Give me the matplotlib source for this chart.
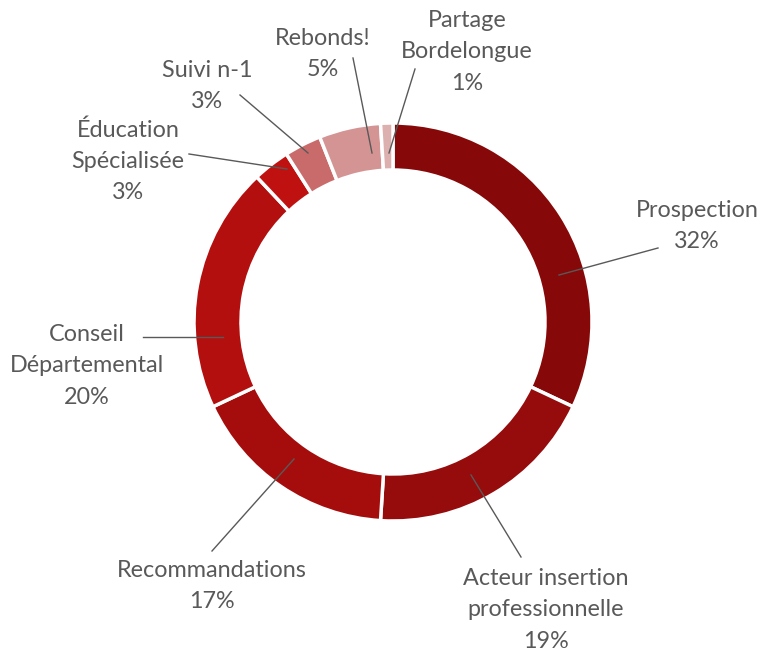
import numpy as np
import matplotlib.pyplot as plt

## Data ##
labels = ["Prospection", "Acteur insertion\nprofessionnelle", "Recommandations",
          "Conseil\nDépartemental", "Éducation\nSpécialisée", "Suivi n-1",
          "Rebonds!", "Partage\nBordelongue"]
values = [32, 19, 17, 20, 3, 3, 5, 1]
colors = ["#870808", "#960b0b", "#a50d0d", "#b30f0f", "#c01111",
          "#ca6b6b", "#d49494", "#ddb0b0"]

# label centre and leader line (label end, ring end), in image pixels
label_pos = [(697, 226), (546, 610), (212, 586), (87, 366), (128, 161),
             (207, 86), (323, 54), (467, 52)]
leaders = [((658, 248), (559, 275)), ((521, 557), (471, 475)),
           ((212, 551), (294, 459)), ((143, 337), (223, 337)),
           ((189, 154), (287, 169)), ((240, 95), (308, 153)),
           ((353, 58), (372, 153)), ((415, 69), (389, 153))]

W, H = 760, 652
CX, CY, R = 393, 322, 199


def px(x, y):
    return (x - CX) / R, (CY - y) / R


fig = plt.figure(figsize=(W / 100, H / 100), dpi=100)
ax = fig.add_axes([0, 0, 1, 1])
ax.pie(values, colors=colors, startangle=90, counterclock=False, radius=1,
       wedgeprops=dict(width=47 / R, edgecolor="white", linewidth=2.5))
ax.set_xlim(-CX / R, (W - CX) / R)
ax.set_ylim((CY - H) / R, CY / R)
ax.set_aspect("equal")
ax.axis("off")

for lab, v, pos, (a, b) in zip(labels, values, label_pos, leaders):
    ax.plot(*zip(px(*a), px(*b)), color="#595959", lw=1)
    ax.text(*px(*pos), f"{lab}\n{v}%", ha="center", va="center",
            fontsize=16.8, color="#595959", family="Lato", linespacing=1.6)

fig.savefig("out.png", dpi=100)
